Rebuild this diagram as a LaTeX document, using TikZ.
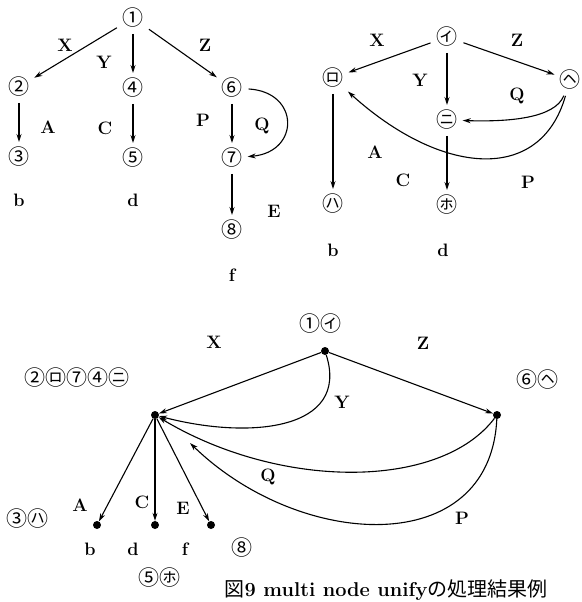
\documentclass[tikz,border=0pt]{standalone}
\usepackage{fontspec}
\newfontfamily\cjk{Noto Sans CJK JP}
\usetikzlibrary{arrows.meta}

\begin{document}
\begin{tikzpicture}[x=1pt,y=-1pt,
  circ/.style={font=\fontsize{21}{23}\selectfont\cjk, inner sep=2pt},
  lbl/.style={font=\fontsize{18}{20}\selectfont\bfseries, inner sep=1pt},
  dot/.style={circle, fill, inner sep=0pt, minimum size=8pt},
  arr/.style={-{Stealth[length=8pt,width=5pt]}, line width=1.1pt},
  tarr/.style={arr, shorten <=4pt, shorten >=3pt}]
\useasboundingbox (0,0) rectangle (581,602);
% left tree
\node[circ] (n1) at (133,18) {①};
\node[circ] (n2) at (19,87) {②};
\node[circ] (n4) at (133,88) {④};
\node[circ] (n6) at (232,88) {⑥};
\node[circ] (n3) at (19,157) {③};
\node[circ] (n5) at (133,158) {⑤};
\node[circ] (n7) at (232,158) {⑦};
\node[circ] (n8) at (232,230) {⑧};
\node[lbl] (lx1) at (65,45) {X};
\node[lbl] (ly1) at (104,62) {Y};
\node[lbl] (lz1) at (205,45) {Z};
\node[lbl] (la1) at (48,127) {A};
\node[lbl] (lc1) at (105,128) {C};
\node[lbl] (lp1) at (203,120) {P};
\node[lbl] (lq1) at (262,126) {Q};
\node[lbl] (le1) at (274,211) {E};
\node[lbl] (lb1) at (19,200) {b};
\node[lbl] (ld1) at (133,200) {d};
\node[lbl] (lf1) at (232,275) {f};
\draw[tarr] (n1) -- (n2);
\draw[tarr] (n1) -- (n4);
\draw[tarr] (n1) -- (n6);
\draw[tarr] (n2) -- (n3);
\draw[tarr] (n4) -- (n5);
\draw[tarr] (n6) -- (n7);
\draw[tarr] (n7) -- (n8);
\draw[tarr] (n6) .. controls (300,92) and (300,152) .. (n7);
% right tree
\node[circ] (ni) at (447,37) {㋑};
\node[circ] (nro) at (333,78) {㋺};
\node[circ] (nhe) at (570,80) {㋬};
\node[circ] (nni) at (447,120) {㋥};
\node[circ] (nha) at (333,204) {㋩};
\node[circ] (nho) at (447,205) {㋭};
\node[lbl] (lx2) at (377,40) {X};
\node[lbl] (lz2) at (517,40) {Z};
\node[lbl] (ly2) at (420,80) {Y};
\node[lbl] (lq2) at (517,96) {Q};
\node[lbl] (la2) at (375,152) {A};
\node[lbl] (lc2) at (403,180) {C};
\node[lbl] (lp2) at (528,182) {P};
\node[lbl] (lb2) at (333,250) {b};
\node[lbl] (ld2) at (443,250) {d};
\draw[tarr] (ni) -- (nro);
\draw[tarr] (ni) -- (nhe);
\draw[tarr] (ni) -- (nni);
\draw[tarr] (nro) -- (nha);
\draw[tarr] (nni) -- (nho);
\draw[tarr] (nhe) .. controls (555,118) and (510,122) .. (nni);
\draw[tarr] (nhe) .. controls (540,185) and (440,175) .. (nro);
% unified graph
\node[dot] (u1) at (325,351) {};
\node[dot] (u2) at (155,415) {};
\node[dot] (u6) at (497,415) {};
\node[dot] (ub) at (97,525) {};
\node[dot] (ud) at (155,525) {};
\node[dot] (uf) at (211,525) {};
\coordinate (pend) at (190,443);
\node[circ] (t1) at (320,324) {①㋑};
\node[circ] (t2) at (77,378) {②㋺⑦④㋥};
\node[circ] (t6) at (537,380) {⑥㋬};
\node[circ] (t3) at (27,519) {③㋩};
\node[circ] (t5) at (159,578) {⑤㋭};
\node[circ] (t8) at (242,548) {⑧};
\node[lbl] (lx3) at (214,342) {X};
\node[lbl] (lz3) at (423,343) {Z};
\node[lbl] (ly3) at (342,402) {Y};
\node[lbl] (lq3) at (268,477) {Q};
\node[lbl] (lp3) at (462,518) {P};
\node[lbl] (la3) at (80,505) {A};
\node[lbl] (lc3) at (142,502) {C};
\node[lbl] (le3) at (183,508) {E};
\node[lbl] (lb3) at (90,549) {b};
\node[lbl] (ld3) at (133,549) {d};
\node[lbl] (lf3) at (185,549) {f};
\draw[arr] (u1) -- (u2);
\draw[arr] (u1) -- (u6);
\draw[arr] (u1) .. controls (350,430) and (250,440) .. (u2);
\draw[arr] (u6) .. controls (440,490) and (280,490) .. (u2);
\draw[arr] (u6) .. controls (490,560) and (300,550) .. (pend);
\draw[arr] (u2) -- (ub);
\draw[arr] (u2) -- (ud);
\draw[arr] (u2) -- (uf);
\node[font=\fontsize{20}{22}\selectfont] (cap) at (386,590)
  {{\cjk 図}\textbf{9 multi node unify}{\cjk の処理結果例}};
\end{tikzpicture}
\end{document}
